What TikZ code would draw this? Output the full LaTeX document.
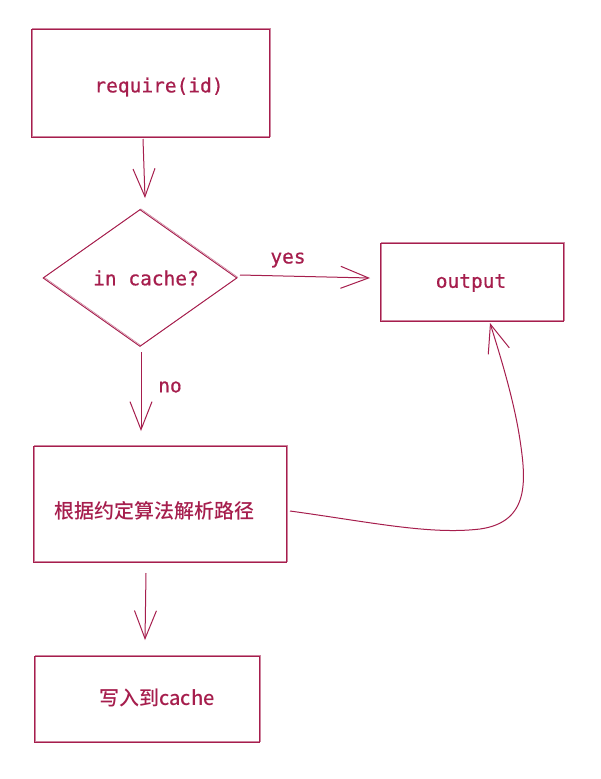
\documentclass[tikz,border=0pt]{standalone}
\usepackage{fontspec}
\newfontfamily\monof{DejaVu Sans Mono}[FakeBold=0.6]
\newfontfamily\cjk{Noto Sans CJK SC Medium}
\usetikzlibrary{shapes.geometric,arrows.meta}
\definecolor{ink}{HTML}{A61E4D}
\tikzset{
  sketch/.style={draw=ink, line width=0.9pt,
    postaction={draw=ink, opacity=0.55, line width=0.6pt,
      transform canvas={shift={(0.9pt,0.8pt)}}}},
  boxnode/.style={sketch, rectangle, inner sep=0pt},
  mono/.style={text=ink, font=\monof\fontsize{19.5}{22}\selectfont},
  cjktext/.style={text=ink, font=\cjk\fontsize{20}{24}\selectfont},
  flow/.style={draw=ink, line width=1pt,
    -{Straight Barb[length=28pt,width=22pt,line width=1pt]}},
}
\begin{document}
\begin{tikzpicture}[x=1pt,y=-1pt]
\useasboundingbox (0,0) rectangle (600,779);
\fill[white] (0,0) rectangle (600,779);

\node[boxnode, minimum width=238pt, minimum height=108pt] (req) at (150,83) {};
\node[mono] (reqt) at (159,87) {require(id)};

\node[sketch, diamond, inner sep=0pt, minimum width=194pt, minimum height=137pt] (dec) at (140,278) {};
\node[mono] (dect) at (146,278) {in cache?};

\node[boxnode, minimum width=183pt, minimum height=78pt] (out) at (471.5,282) {};
\node[mono] (outt) at (471,283) {output};

\node[boxnode, minimum width=253pt, minimum height=116pt] (res) at (159.5,504) {};
\node[cjktext] (rest) at (154,511) {根据约定算法解析路径};

\node[boxnode, minimum width=225pt, minimum height=86pt] (wr) at (146.5,699) {};
\node[cjktext] (wrt) at (157,698) {写入到cache};

\node[mono] (yes) at (288,260) {yes};
\node[mono] (no) at (170,387) {no};

\coordinate (a1) at (143,139);
\coordinate (a2) at (145,198);
\draw[flow] (a1) -- (a2);

\coordinate (b1) at (240,275);
\coordinate (b2) at (370,278);
\draw[flow] (b1) -- (b2);

\coordinate (c1) at (141,352);
\coordinate (c2) at (141,431);
\draw[flow] (c1) -- (c2);

\coordinate (d1) at (146,573);
\coordinate (d2) at (145,640);
\draw[flow] (d1) -- (d2);

\coordinate (e1) at (290,511);
\coordinate (e2) at (490,323);
\draw[flow] (e1) .. controls (370,522) and (430,535) .. (480,529)
  .. controls (530,522) and (526,480) .. (520,440)
  .. controls (514,400) and (500,355) .. (e2);
\end{tikzpicture}
\end{document}
